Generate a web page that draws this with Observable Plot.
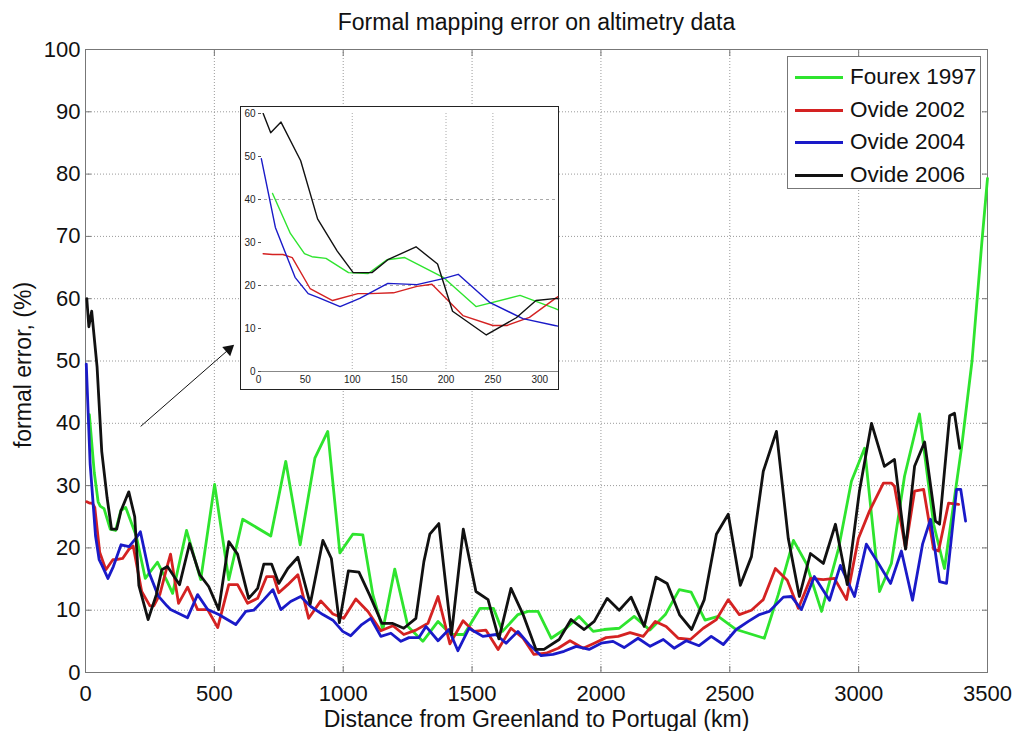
<!DOCTYPE html>
<html><head><meta charset="utf-8">
<script src="https://cdn.jsdelivr.net/npm/d3@7"></script>
<script src="https://cdn.jsdelivr.net/npm/@observablehq/plot@0.6"></script>
<style>
body{margin:0;background:#fff;}
#wrap{position:relative;width:1013px;height:731px;font-family:"Liberation Sans",Arial,Helvetica,sans-serif;}
#inset{position:absolute;left:240px;top:106px;width:319px;height:284px;box-sizing:border-box;border:1px solid #222;background:#fff;}
#inset svg{display:block;}
#legend{position:absolute;left:787px;top:56px;width:194px;height:133px;box-sizing:border-box;border:1px solid #777;background:#fff;font-size:22.5px;color:#111;}
.row{position:absolute;left:0;height:26px;display:flex;align-items:center;white-space:nowrap;}
.sw{display:inline-block;width:48px;height:3px;margin-left:7px;margin-right:7px;}
</style></head>
<body><div id="wrap"><div id="main"></div><div id="inset"></div><div id="legend"></div></div>
<script>
const chartTitle = "Formal mapping error on altimetry data";
const xLabel = "Distance from Greenland to Portugal (km)";
const yLabel = "formal error, (%)";
const seriesNames = ["Fourex 1997", "Ovide 2002", "Ovide 2004", "Ovide 2006"];
const seriesColors = ["#2ee42e", "#d42222", "#1a1ac8", "#111111"];
const xTicks = [0, 500, 1000, 1500, 2000, 2500, 3000, 3500];
const yTicks = [0, 10, 20, 30, 40, 50, 60, 70, 80, 90, 100];
const insetXTicks = [0, 50, 100, 150, 200, 250, 300];
const insetYTicks = [0, 10, 20, 30, 40, 50, 60];
const insetXGrid = [100, 200, 250];
const insetYGrid = [20, 40];

const fourexKm = [15,34,49,57,72,96,117,137,156,197,232,279,316,338,392,447,501,556,610,719,777,833,890,940,987,1037,1076,1115,1154,1200,1251,1309,1368,1418,1469,1531,1583,1618,1678,1717,1756,1807,1865,1915,1970,2012,2071,2129,2190,2250,2304,2350,2404,2455,2525,2634,2688,2747,2797,2856,2922,2972,3023,3081,3127,3178,3236,3291,3333,3399,3440,3478,3500];
const fourexErr = [41.4,32.1,27.4,26.7,26.3,23.0,22.8,26.0,26.5,21.9,15.1,17.7,14.7,12.7,22.8,14.9,30.2,14.9,24.6,21.9,33.9,20.5,34.4,38.7,19.2,22.2,22.1,12.5,6.9,16.6,7.4,5.0,8.2,6.1,6.1,10.3,10.3,6.6,9.3,9.8,9.8,5.5,7.1,9.0,6.6,6.9,7.1,9.0,6.8,9.3,13.3,12.9,8.4,9.0,6.9,5.5,12.5,21.2,17.5,9.8,19.9,30.7,36.0,13.0,17.5,31.5,41.5,23.8,16.7,36.0,50,69,79.3];

const ovide02Km = [5,15,26,36,55,79,106,119,144,169,185,218,250,265,289,316,330,361,396,435,474,513,556,590,629,668,703,730,750,785,824,866,913,960,1002,1049,1096,1146,1193,1235,1282,1329,1368,1414,1465,1507,1554,1601,1651,1698,1740,1787,1834,1880,1931,1974,2020,2067,2113,2164,2211,2253,2300,2347,2397,2448,2494,2537,2584,2630,2677,2723,2766,2813,2863,2906,2953,2999,3042,3096,3127,3139,3182,3217,3252,3291,3310,3349,3388];
const ovide02Err = [27.4,27.2,27.2,26.5,19.3,16.5,18.1,18.1,18.3,19.8,20.3,13.0,10.7,10.7,12.6,16.9,19.0,11.1,13.7,10.1,10.1,7.2,14.1,14.1,11.1,11.9,15.4,15.4,12.8,14.1,15.7,8.7,11.5,9.4,8.7,11.8,9.8,6.7,7.5,6.1,6.8,7.9,12.2,4.6,8.3,6.6,6.8,3.7,7.1,5.5,2.9,3.1,3.9,5.1,3.9,4.7,5.6,5.8,6.4,5.8,8.2,7.4,5.5,5.3,7.1,8.5,11.7,9.3,10.0,11.7,16.7,14.8,10.3,15.1,14.9,15.1,11.7,21.5,25.9,30.4,30.4,29.9,19.9,29.1,29.4,19.8,19.5,27.2,27.0];

const ovide04Km = [3,18,39,53,64,87,108,138,169,197,213,247,282,316,330,396,435,474,517,583,622,653,692,727,758,796,835,874,921,960,998,1029,1072,1107,1146,1185,1224,1255,1294,1321,1368,1410,1445,1488,1542,1593,1632,1678,1721,1768,1814,1857,1904,1954,2001,2047,2090,2144,2191,2242,2284,2331,2381,2428,2475,2525,2572,2615,2653,2708,2739,2778,2828,2887,2929,2984,3030,3077,3124,3166,3209,3248,3279,3314,3341,3380,3396,3415];
const ovide04Err = [49.5,33.5,21.9,18.1,17.2,15.1,17.0,20.5,20.2,21.6,22.6,16.0,12.3,10.7,10.1,8.8,12.5,10.1,9.3,7.7,9.8,10.0,11.7,13.3,10.1,11.4,12.2,10.6,9.3,8.4,6.6,5.9,7.7,8.7,5.8,6.3,5.0,5.6,5.6,7.4,5.1,6.9,3.5,7.1,5.8,6.1,4.7,6.6,4.5,2.7,2.9,3.4,4.2,3.7,4.7,5.0,4.0,5.5,4.2,5.3,3.9,5.1,4.3,5.8,4.5,6.9,8.2,9.3,9.8,12.1,12.2,10.1,15.4,11.6,17.2,12.2,20.6,17.5,14.3,19.5,11.6,20.6,24.6,14.6,14.3,29.4,29.4,24.3];

const ovide06Km = [5,13,24,45,63,84,101,121,138,168,191,207,243,275,296,318,365,404,443,478,517,556,590,633,668,692,722,750,785,824,872,921,954,985,1020,1061,1104,1150,1190,1235,1282,1313,1336,1371,1420,1466,1515,1562,1604,1651,1698,1748,1779,1838,1884,1935,1974,2024,2071,2117,2168,2214,2257,2306,2352,2401,2448,2494,2541,2584,2630,2681,2727,2770,2813,2863,2910,2956,3003,3050,3100,3139,3182,3217,3256,3298,3314,3353,3372,3392];
const ovide06Err = [60,55.5,58,49,35.5,28,23,23,26,29,25,14,8.5,12.5,16.5,17,14.1,20.7,15.7,13.8,10.1,21.0,19.0,11.9,13.5,17.4,17.4,14.3,16.7,18.5,11.0,21.2,18.3,8.0,16.3,16.1,12.3,7.9,7.9,7.1,8.7,17.8,22.2,23.9,6.1,23.0,13.0,11.7,5.4,13.5,9.3,3.7,3.7,5.3,8.5,6.9,8.2,11.9,10.0,12.1,7.4,15.3,14.3,9.2,6.9,11.7,22.2,25.4,14.0,18.6,32.3,38.7,21.5,12.2,19.1,17.5,23.8,14.1,29.1,40.0,33.1,34.2,19.8,33.1,37.0,24.3,23.8,41.2,41.6,36.0];

// arrow annotation (data units: km, %)
const arrowStart = [214, 39.5];
const arrowEnd = [571, 52.4];

const FONT = '"Liberation Sans", Arial, Helvetica, sans-serif';
const plain = d => String(d);
const kms = [fourexKm, ovide02Km, ovide04Km, ovide06Km];
const errs = [fourexErr, ovide02Err, ovide04Err, ovide06Err];
const series = seriesNames.map((name, j) => ({
  name, color: seriesColors[j],
  rows: kms[j].map((k, i) => ({km: k, err: errs[j][i]}))
}));

const main = Plot.plot({
  width: 1013, height: 731,
  marginLeft: 85, marginRight: 26, marginTop: 49, marginBottom: 59,
  x: {domain: [0, 3500]},
  y: {domain: [0, 100]},
  style: {fontFamily: FONT, fontSize: "22px", background: "#fff", color: "#111", overflow: "visible"},
  marks: [
    Plot.gridX(xTicks.slice(1, -1), {stroke: "#9a9a9a", strokeOpacity: 1, strokeDasharray: "1,2"}),
    Plot.gridY(yTicks.slice(1, -1), {stroke: "#9a9a9a", strokeOpacity: 1, strokeDasharray: "1,2"}),
    Plot.frame({stroke: "#777"}),
    Plot.axisX(xTicks, {anchor: "bottom", tickSize: 6, dy: -6, fill: "none", stroke: "#777", label: null}),
    Plot.axisX(xTicks, {anchor: "top", tickSize: 6, dy: 6, fill: "none", stroke: "#777", label: null}),
    Plot.axisY(yTicks, {anchor: "left", tickSize: 6, dx: 6, fill: "none", stroke: "#777", label: null}),
    Plot.axisY(yTicks, {anchor: "right", tickSize: 6, dx: -6, fill: "none", stroke: "#777", label: null}),
    Plot.axisX(xTicks, {anchor: "bottom", tickSize: 0, tickPadding: 13, tickFormat: plain, label: null, fontSize: 22}),
    Plot.axisY(yTicks, {anchor: "left", tickSize: 0, tickPadding: 5, tickFormat: plain, label: null, fontSize: 22}),
    ...series.map(s => Plot.line(s.rows, {x: "km", y: "err", stroke: s.color, strokeWidth: 2.8})),
    Plot.link([0], {x1: () => arrowStart[0], y1: () => arrowStart[1], x2: () => arrowEnd[0], y2: () => arrowEnd[1], stroke: "#111", strokeWidth: 1}),
    Plot.dot([0], {x: () => arrowEnd[0], y: () => arrowEnd[1], symbol: "triangle", r: 4.5, fill: "#111", stroke: "none", rotate: 49, dx: -3.8, dy: 3.3}),
    Plot.text([chartTitle], {frameAnchor: "top", dy: -27, fontSize: 23, fill: "#111", textAnchor: "middle", lineAnchor: "middle"}),
    Plot.text([xLabel], {frameAnchor: "bottom", dy: 47, fontSize: 23, fill: "#111", textAnchor: "middle", lineAnchor: "middle"}),
    Plot.text([yLabel], {frameAnchor: "left", dx: -62, dy: 4, rotate: -90, fontSize: 23, fill: "#111", textAnchor: "middle", lineAnchor: "middle"})
  ]
});
document.getElementById("main").appendChild(main);

const inset = Plot.plot({
  width: 317, height: 282,
  marginLeft: 17, marginRight: 0, marginTop: 6, marginBottom: 18,
  x: {domain: [0, 320]},
  y: {domain: [0, 60]},
  style: {fontFamily: FONT, fontSize: "10px", background: "#fff", color: "#222", overflow: "visible"},
  marks: [
    Plot.gridX(insetXGrid, {stroke: "#aaa", strokeOpacity: 1, strokeDasharray: "1,2"}),
    Plot.gridY(insetYGrid, {stroke: "#aaa", strokeOpacity: 1, strokeDasharray: "3,3"}),
    Plot.ruleY([0], {stroke: "#888"}),
    Plot.axisY(insetYTicks, {anchor: "left", tickSize: 3, dx: 3, fill: "none", stroke: "#555", label: null}),
    Plot.axisY(insetYTicks, {anchor: "left", tickSize: 0, tickPadding: 3, tickFormat: plain, label: null}),
    Plot.axisX(insetXTicks, {anchor: "bottom", tickSize: 0, tickPadding: 4, tickFormat: plain, label: null}),
    ...series.map(s => Plot.line(s.rows, {x: "km", y: "err", stroke: s.color, strokeWidth: 1.4, clip: true}))
  ]
});
document.getElementById("inset").appendChild(inset);

const legend = document.getElementById("legend");
const rowCenters = [20, 53, 85, 118];
series.forEach((s, j) => {
  const row = document.createElement("div");
  row.className = "row";
  row.style.top = (rowCenters[j] - 13) + "px";
  const sw = document.createElement("span");
  sw.className = "sw";
  sw.style.background = s.color;
  const t = document.createElement("span");
  t.textContent = s.name;
  row.appendChild(sw); row.appendChild(t);
  legend.appendChild(row);
});
</script>
</body></html>
